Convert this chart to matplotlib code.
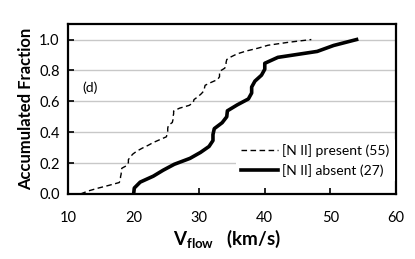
import numpy as np
import matplotlib
matplotlib.use("Agg")
import matplotlib.pyplot as plt

plt.rcParams["font.family"] = ["Lato", "DejaVu Sans"]
plt.rcParams["mathtext.fontset"] = "custom"
plt.rcParams["mathtext.rm"] = "Lato"
plt.rcParams["mathtext.bf"] = "Lato:bold"

# sorted outflow velocities (km/s)
v_present = [11.9, 13.0, 14.5, 16.2, 17.8, 18.0, 18.0, 18.1, 18.1, 18.2,
             19.0, 19.2, 19.2, 19.5, 19.9, 20.5, 21.3, 22.2, 23.0, 24.0,
             25.0, 25.1, 25.2, 25.2, 25.3, 25.9, 26.0, 26.0, 26.1, 26.1,
             27.0, 28.5, 29.1, 29.2, 29.8, 30.3, 30.7, 30.8, 30.9, 31.8,
             32.8, 33.1, 33.1, 33.2, 33.9, 34.1, 34.1, 34.2, 34.9, 35.8,
             37.2, 39.0, 40.5, 43.5, 47.1]
v_absent = [20.0, 20.1, 21.0, 23.0, 24.5, 26.2, 28.6, 30.2, 31.5, 32.1,
            32.1, 32.3, 33.5, 34.2, 34.3, 35.8, 37.5, 38.0, 38.0, 38.5,
            39.5, 40.0, 40.0, 42.0, 48.0, 50.5, 54.0]

label_present = "[N II] present (55)"
label_absent = "[N II] absent (27)"

frac_present = np.arange(len(v_present)) / (len(v_present) - 1)
frac_absent = np.arange(len(v_absent)) / (len(v_absent) - 1)

fig = plt.figure(figsize=(4.15, 2.59), dpi=100)
ax = fig.add_axes([0.164, 0.251, 0.790, 0.656])

ax.plot(v_present, frac_present, color="black", linestyle=(0, (4, 2.5)), lw=1.0, label=label_present)
ax.plot(v_absent, frac_absent, color="black", lw=2.6, label=label_absent)

ax.set_xlim(10, 60)
ax.set_ylim(0, 1.1)
ax.set_xticks([10, 20, 30, 40, 50, 60])
ax.set_yticks([0.0, 0.2, 0.4, 0.6, 0.8, 1.0])
ax.yaxis.set_major_formatter(matplotlib.ticker.FormatStrFormatter("%.1f"))
ax.grid(axis="y", color="#c8c8c8", lw=1.0)
ax.set_axisbelow(True)
ax.tick_params(direction="in", length=4, width=1.2, labelsize=10.5, pad=6)
ax.tick_params(axis="x", pad=12)
for s in ax.spines.values():
    s.set_linewidth(1.6)

ax.set_xlabel(r"$\mathbf{V_{flow}}$   (km/s)", fontsize=13.5, fontweight="bold")
ax.xaxis.set_label_coords(0.485, -0.2)
ax.set_ylabel("Accumulated Fraction", fontsize=12, fontweight="bold", labelpad=4)

ax.text(12.2, 0.69, "(d)", fontsize=10, va="center")

leg = ax.legend(loc="lower right", bbox_to_anchor=(1.0, 0.06), frameon=True, fontsize=10,
                handlelength=2.6, borderaxespad=0.1, labelspacing=0.5, handletextpad=0.3)
leg.get_frame().set_edgecolor("none")
leg.get_frame().set_facecolor("white")
leg.get_frame().set_alpha(1)

fig.savefig("out.png", dpi=100)
